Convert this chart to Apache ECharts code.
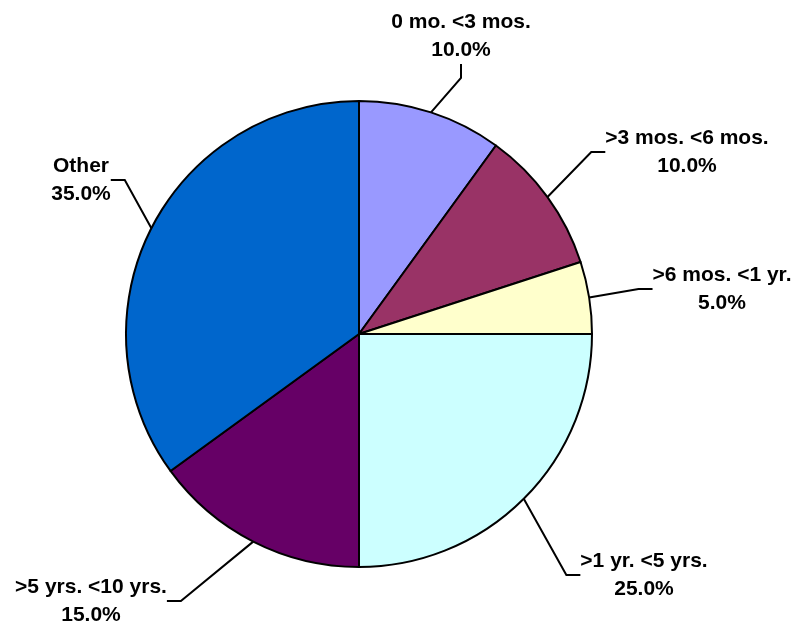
<!DOCTYPE html>
<html>
<head>
<meta charset="utf-8">
<style>
html,body{margin:0;padding:0;background:#fff;}
#chart{width:798px;height:627px;}
</style>
<script src="https://cdn.jsdelivr.net/npm/echarts@6/dist/echarts.min.js"></script>
</head>
<body>
<div id="chart"></div>
<script>
// Data
var categories = ['0 mo. <3 mos.', '>3 mos. <6 mos.', '>6 mos. <1 yr.', '>1 yr. <5 yrs.', '>5 yrs. <10 yrs.', 'Other'];
var shares = [10, 10, 5, 25, 15, 35];

// Styles / layout (not data)
var sliceColors = ['#9999FF', '#993366', '#FFFFCC', '#CCFFFF', '#660066', '#0066CC'];
var labelCenters = [[461, 36], [687, 152], [722, 289], [644, 575], [91, 601], [81, 180]];

var chart = echarts.init(document.getElementById('chart'), null, {renderer: 'canvas'});

var seriesData = categories.map(function (name, i) {
  return {
    name: name,
    value: shares[i],
    itemStyle: {color: sliceColors[i]}
  };
});

chart.setOption({
  animation: false,
  backgroundColor: '#ffffff',
  series: [{
    type: 'pie',
    center: [359, 334],
    radius: 233,
    startAngle: 90,
    clockwise: true,
    avoidLabelOverlap: false,
    emphasis: {disabled: true},
    itemStyle: {borderColor: '#000000', borderWidth: 2},
    label: {
      show: true,
      position: 'outside',
      color: '#000000',
      fontFamily: '"Liberation Sans", Arial, sans-serif',
      fontWeight: 'bold',
      fontSize: 21,
      lineHeight: 28,
      formatter: function (p) {
        return p.name + '\n' + p.percent.toFixed(1) + '%';
      }
    },
    labelLine: {
      show: true,
      length: 20,
      length2: 14,
      minTurnAngle: 90,
      lineStyle: {color: '#000000', width: 2}
    },
    labelLayout: function (params) {
      var c = labelCenters[params.dataIndex];
      return {x: c[0], y: c[1], align: 'center', verticalAlign: 'middle'};
    },
    data: seriesData
  }]
});
</script>
</body>
</html>
